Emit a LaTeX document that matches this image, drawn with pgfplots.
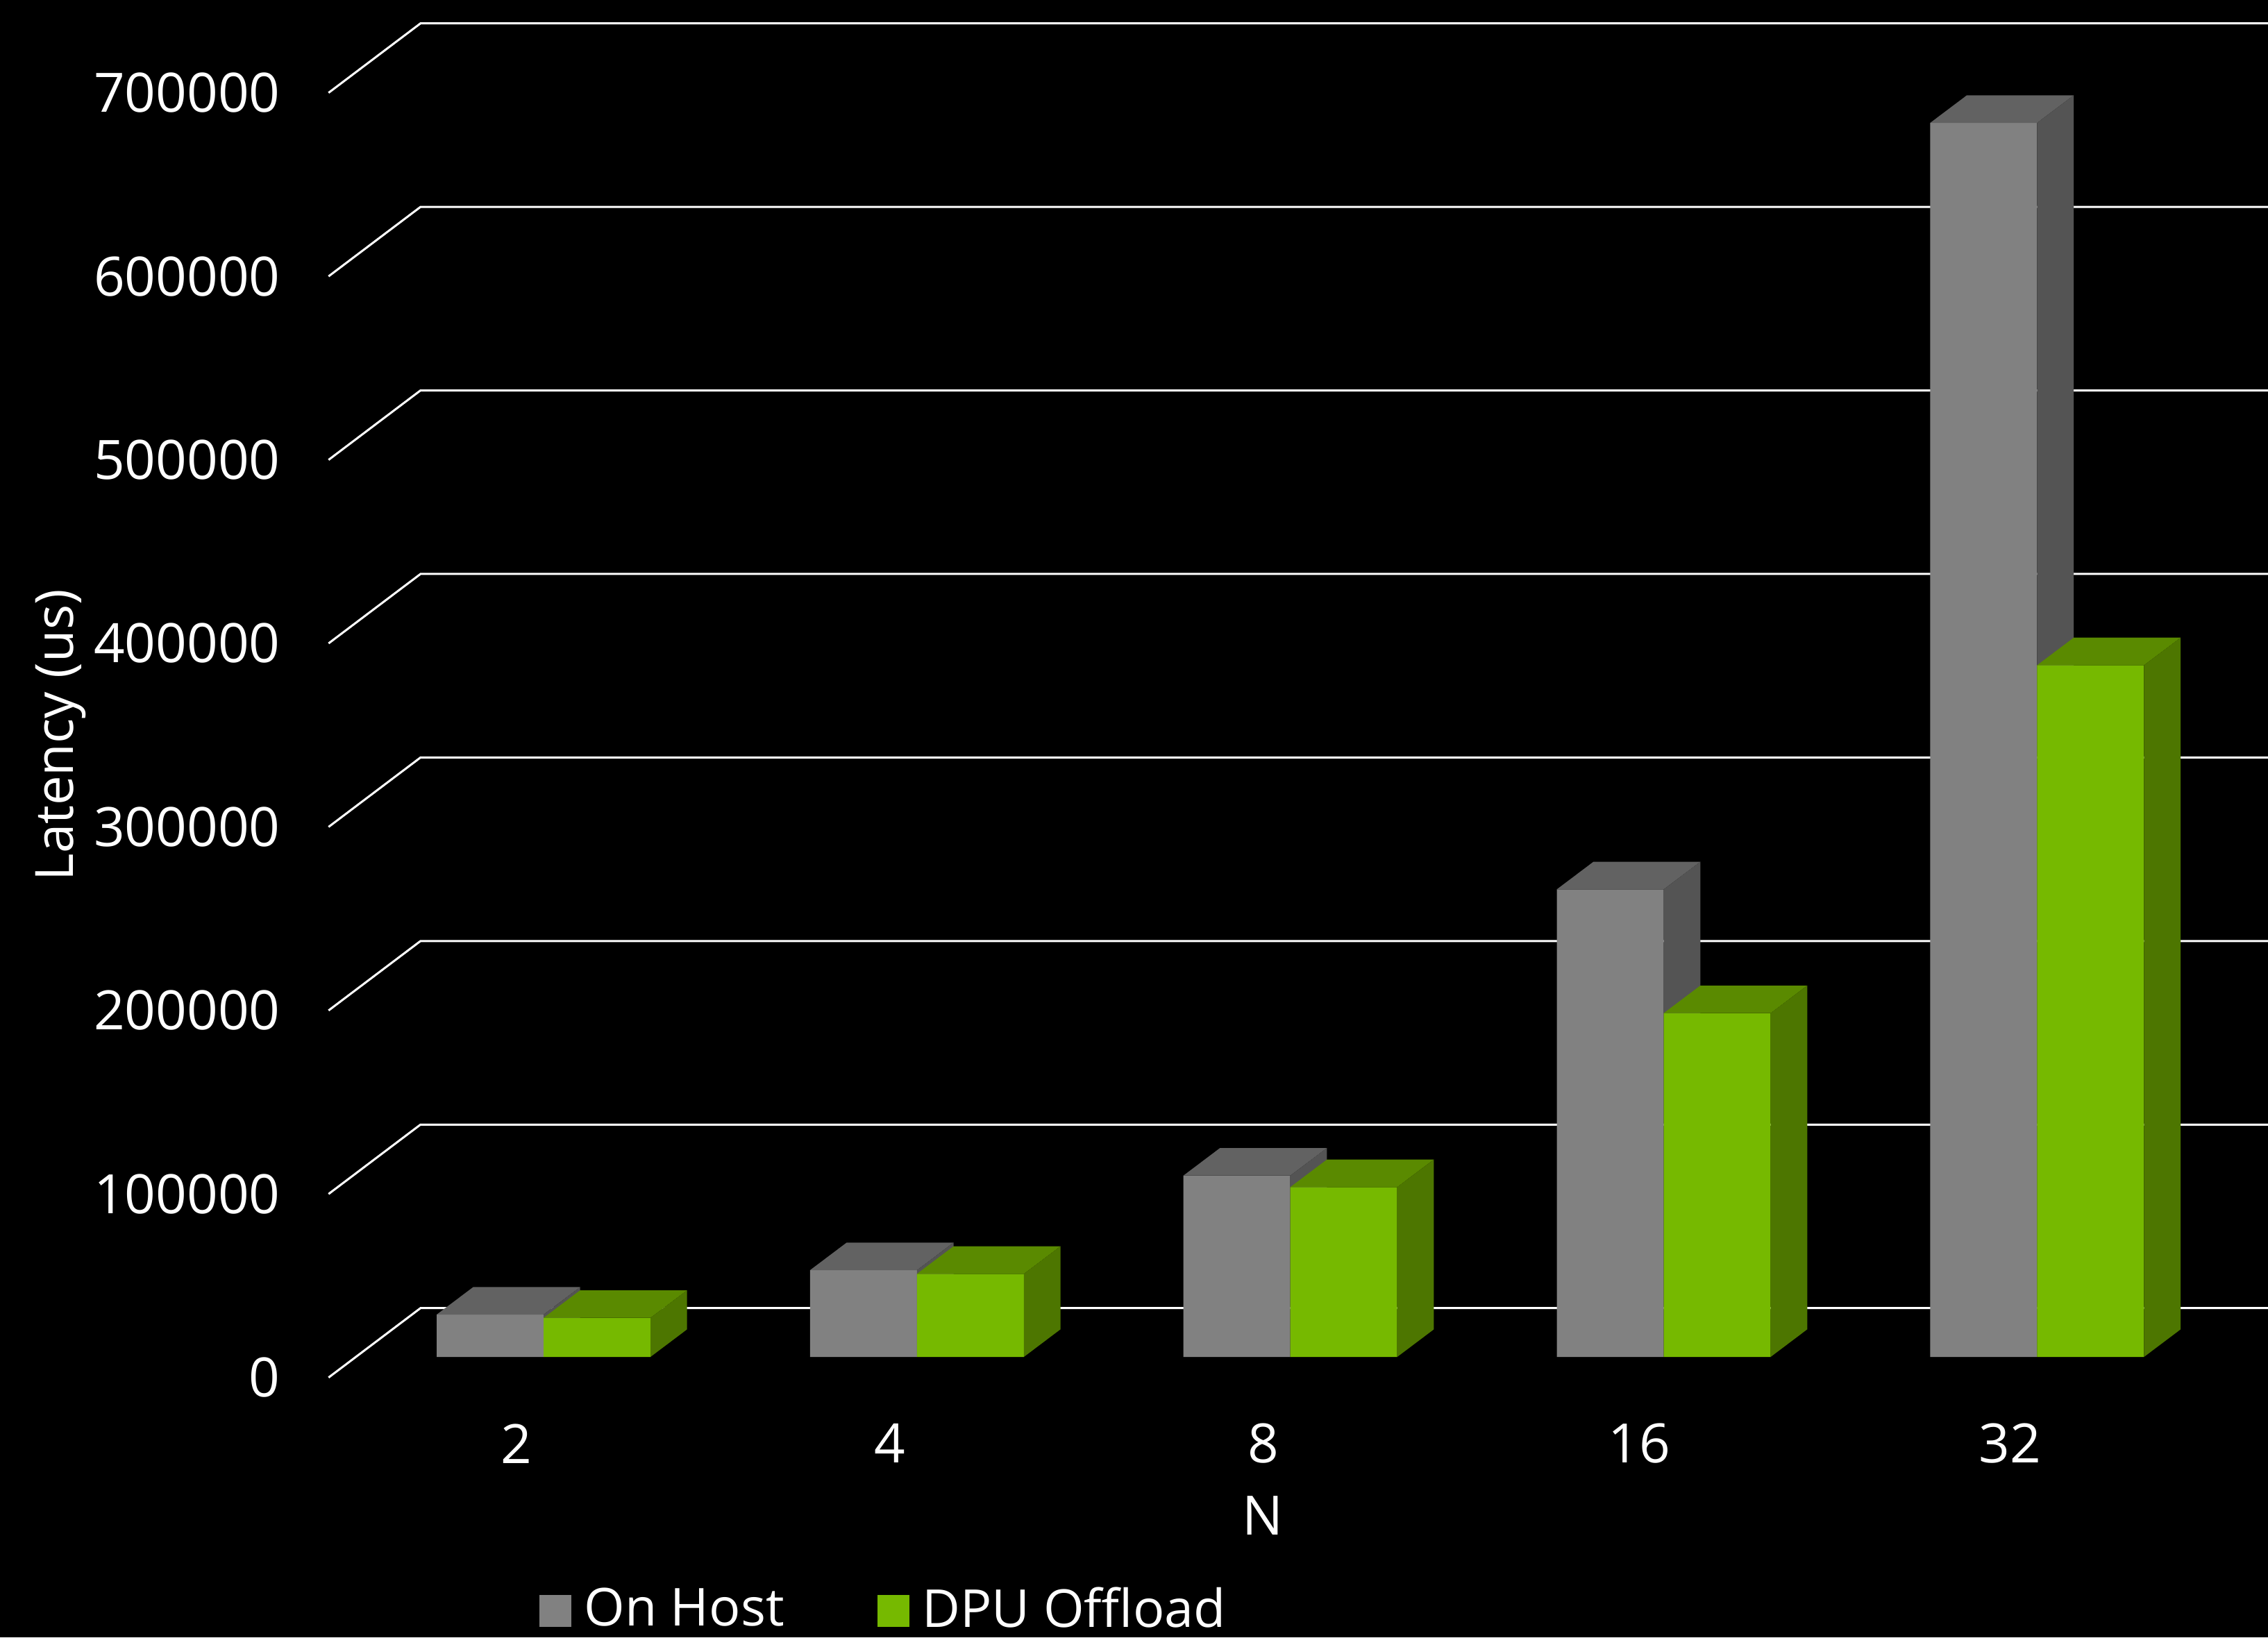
\documentclass[border=0pt]{standalone}
\usepackage{fontspec}
\setmainfont{Open Sans}
\usepackage{pgfplots}
\usepackage{pgfplotstable}
\pgfplotsset{compat=1.18}

\definecolor{hostfront}{HTML}{818181}
\definecolor{hosttop}{HTML}{626262}
\definecolor{hostside}{HTML}{545454}
\definecolor{dpufront}{HTML}{76B900}
\definecolor{dputop}{HTML}{5A8A00}
\definecolor{dpuside}{HTML}{4D7600}

\newcommand{\lab}{\fontsize{10.9}{13}\selectfont}
\newcommand{\keylab}{\fontsize{10.5}{13}\selectfont}
\newcommand{\ylab}{\fontsize{10.6}{13}\selectfont}

% Latency in microseconds for each message count
\pgfplotstableread{
idx latency
0 23070
1 47270
2 98820
3 254770
4 672390
}\onhost
\pgfplotstableread{
idx latency
0 21290
1 45270
2 92540
3 187310
4 376880
}\dpuoffload

\pgfplotsset{
  sheet/.style={
    at={(0,0)}, anchor=south west,
    scale only axis, width=16cm, height=11.5531cm,
    xmin=-1.4558, xmax=4.6184,
    clip=true,
  },
  wall/.style={draw=white, line width=0.42pt, forget plot},
  face/.style={fill=#1, draw=none, forget plot},
}

\begin{document}
\begin{tikzpicture}
\useasboundingbox (0,0) rectangle (16cm,11.5531cm);
\clip (0,0) rectangle (16cm,11.5531cm);
\fill[black] (0,0) rectangle (16cm,11.5531cm);

% Back wall: gridlines, value scale, category names
\begin{axis}[
  sheet,
  ymin=-141550, ymax=750558,
  axis line style={draw=none},
  tick style={draw=none},
  ytick={0,100000,...,700000},
  xtick={-0.0725,0.9275,1.9275,2.935,3.9275},
  xticklabels={2,4,8,16,32},
  scaled y ticks=false,
  yticklabel style={/pgf/number format/fixed, /pgf/number format/1000 sep={},
    /pgf/number format/assume math mode=true,
    font=\lab, text=white, anchor=east, xshift=2.10cm},
  xticklabel style={font=\lab, text=white, anchor=center, yshift=1.368cm,
    /pgf/number format/assume math mode=true},
  xlabel={N}, ylabel={Latency (us)},
  every axis x label/.style={at={(axis description cs:0.5568,0.0742)}, anchor=center, font=\lab, text=white},
  every axis y label/.style={at={(axis description cs:0.0268,0.5510)}, anchor=center, rotate=90, font=\ylab, text=white},
]
\addplot[wall] coordinates {(-0.5758,0) (-0.3296,37817) (4.7,37817)};
\addplot[wall] coordinates {(-0.5758,100000) (-0.3296,137817) (4.7,137817)};
\addplot[wall] coordinates {(-0.5758,200000) (-0.3296,237817) (4.7,237817)};
\addplot[wall] coordinates {(-0.5758,300000) (-0.3296,337817) (4.7,337817)};
\addplot[wall] coordinates {(-0.5758,400000) (-0.3296,437817) (4.7,437817)};
\addplot[wall] coordinates {(-0.5758,500000) (-0.3296,537817) (4.7,537817)};
\addplot[wall] coordinates {(-0.5758,600000) (-0.3296,637817) (4.7,637817)};
\addplot[wall] coordinates {(-0.5758,700000) (-0.3296,737817) (4.7,737817)};
\end{axis}

% Bars on the floor of the chart, each with a top and a right-hand face
\begin{axis}[
  sheet,
  ymin=-152781, ymax=739326,
  hide axis,
  legend columns=2,
  legend cell align=left,
  legend style={at={(rel axis cs:0.2378,0.0161)}, anchor=west, draw=none, fill=none,
    inner sep=0pt, outer sep=0pt, font=\keylab, text=white,
    /tikz/every even column/.append style={column sep=16.7pt}},
]
% On Host
\addplot[ybar, bar width=0.2863, bar shift=-0.14315, face=hostfront] table[x=idx, y=latency] {\onhost};
\addplot[face=hosttop] coordinates {(-0.2863,23070) (0,23070) (0.098,38083) (-0.1883,38083)} --cycle;
\addplot[face=hostside] coordinates {(0,0) (0.098,15013) (0.098,38083) (0,23070)} --cycle;
\addplot[face=hosttop] coordinates {(0.7137,47270) (1,47270) (1.098,62283) (0.8117,62283)} --cycle;
\addplot[face=hostside] coordinates {(1,0) (1.098,15013) (1.098,62283) (1,47270)} --cycle;
\addplot[face=hosttop] coordinates {(1.7137,98820) (2,98820) (2.098,113833) (1.8117,113833)} --cycle;
\addplot[face=hostside] coordinates {(2,0) (2.098,15013) (2.098,113833) (2,98820)} --cycle;
\addplot[face=hosttop] coordinates {(2.7137,254770) (3,254770) (3.098,269783) (2.8117,269783)} --cycle;
\addplot[face=hostside] coordinates {(3,0) (3.098,15013) (3.098,269783) (3,254770)} --cycle;
\addplot[face=hosttop] coordinates {(3.7137,672390) (4,672390) (4.098,687403) (3.8117,687403)} --cycle;
\addplot[face=hostside] coordinates {(4,0) (4.098,15013) (4.098,687403) (4,672390)} --cycle;
% DPU Offload
\addplot[ybar, bar width=0.2863, bar shift=0.14315, face=dpufront] table[x=idx, y=latency] {\dpuoffload};
\addplot[face=dputop] coordinates {(0,21290) (0.2863,21290) (0.3843,36303) (0.098,36303)} --cycle;
\addplot[face=dpuside] coordinates {(0.2863,0) (0.3843,15013) (0.3843,36303) (0.2863,21290)} --cycle;
\addplot[face=dputop] coordinates {(1,45270) (1.2863,45270) (1.3843,60283) (1.098,60283)} --cycle;
\addplot[face=dpuside] coordinates {(1.2863,0) (1.3843,15013) (1.3843,60283) (1.2863,45270)} --cycle;
\addplot[face=dputop] coordinates {(2,92540) (2.2863,92540) (2.3843,107553) (2.098,107553)} --cycle;
\addplot[face=dpuside] coordinates {(2.2863,0) (2.3843,15013) (2.3843,107553) (2.2863,92540)} --cycle;
\addplot[face=dputop] coordinates {(3,187310) (3.2863,187310) (3.3843,202323) (3.098,202323)} --cycle;
\addplot[face=dpuside] coordinates {(3.2863,0) (3.3843,15013) (3.3843,202323) (3.2863,187310)} --cycle;
\addplot[face=dputop] coordinates {(4,376880) (4.2863,376880) (4.3843,391893) (4.098,391893)} --cycle;
\addplot[face=dpuside] coordinates {(4.2863,0) (4.3843,15013) (4.3843,391893) (4.2863,376880)} --cycle;
% Key
\addlegendimage{legend image code/.code={\fill[hostfront] (0pt,-3pt) rectangle (6pt,3pt); \path (6.6pt,0pt);}}
\addlegendentry{On Host}
\addlegendimage{legend image code/.code={\fill[dpufront] (0pt,-3pt) rectangle (6pt,3pt); \path (6.6pt,0pt);}}
\addlegendentry{DPU Offload}
\end{axis}
\end{tikzpicture}
\end{document}
